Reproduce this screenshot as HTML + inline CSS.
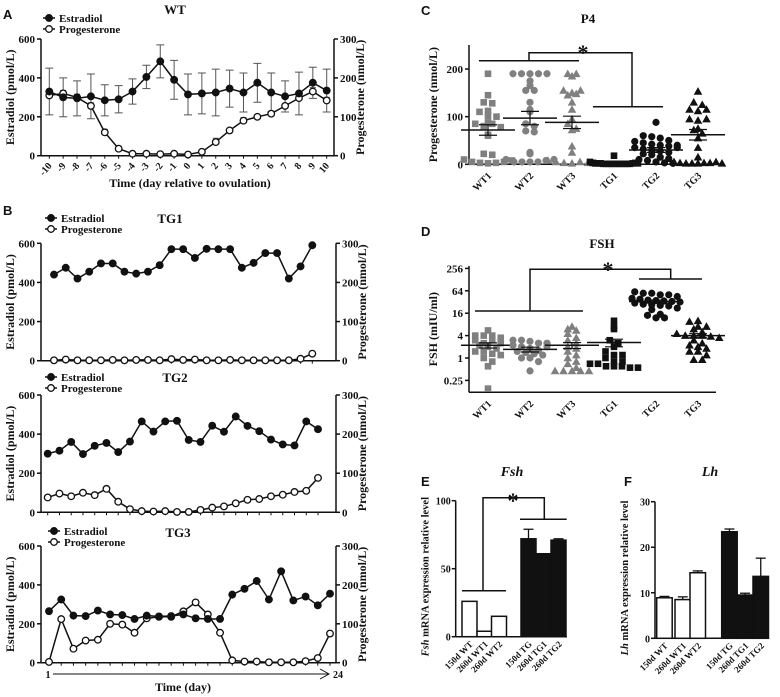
<!DOCTYPE html>
<html><head><meta charset="utf-8"><style>
html,body{margin:0;padding:0;background:#fff;width:780px;height:697px;overflow:hidden}
svg{display:block}
text{font-family:"Liberation Serif",serif;font-weight:bold;fill:#111}
.pl{font-family:"Liberation Sans",sans-serif;font-weight:bold;font-size:13px}
</style></head><body>
<svg id="fig" width="780" height="697" viewBox="0 0 780 697" xmlns="http://www.w3.org/2000/svg"></svg>
<script>
// ---- Panel A (WT) data ----
const aDays=[-10,-9,-8,-7,-6,-5,-4,-3,-2,-1,0,1,2,3,4,5,6,7,8,9,10];
const aE2=[330,300,295,305,285,290,330,405,485,390,315,320,325,345,325,375,325,305,320,375,335];
const aE2err=[120,100,90,115,80,70,65,60,85,100,105,105,120,95,100,100,100,80,110,80,110];
const aP4=[155,160,150,128,60,18,5,5,4,5,3,10,35,65,90,100,108,128,148,165,142];
const aP4err=[8,8,8,8,8,4,2,2,2,2,2,3,10,4,8,4,6,6,8,10,8];
// ---- Panel B data ----
const tg1E2=[440,475,420,455,497,497,455,445,455,488,570,570,525,572,570,570,475,500,550,550,420,482,590];
const tg1P4=[1,3,1,1,1,2,1,2,2,1,4,2,3,1,1,2,1,1,1,1,1,5,18];
const tg2E2=[300,315,360,298,340,355,308,362,465,413,465,468,370,360,443,412,490,442,415,372,347,342,465,425];
const tg2P4=[38,48,41,50,44,60,27,8,3,2,3,1,1,6,12,15,23,32,34,41,45,52,55,88];
const tg3E2=[265,325,242,240,268,248,245,225,242,238,240,248,228,225,225,350,380,420,325,470,320,340,295,355];
const tg3P4=[2,112,36,57,59,100,98,77,114,118,118,132,155,124,77,6,3,3,1,1,1,4,12,75];
// ---- Panel C/D data ----
const groups=["WT1","WT2","WT3","TG1","TG2","TG3"];
const cVals=[
[190,145,130,128,110,102,112,100,88,85,80,85,78,62,60,22,20,10,5,3,2,3,5,8],
[190,190,190,190,190,175,165,155,155,130,115,110,85,80,70,68,22,25,10,5,5,5,5,8,10],
[190,185,190,155,150,145,148,155,130,115,95,85,75,72,38,25,8,5,3,2,5,3,2],
[18,5,3,2,2,2,1,1,1,1,1,1,1,1,1,1,1,2,3,2],
[88,60,58,55,50,48,45,42,40,38,35,32,30,28,25,22,20,15,12,10,8,5,3,2,40,35],
[153,130,125,115,112,115,95,92,95,75,72,65,55,35,15,5,3,2,2,2,3,3,5,2]];
const cMeans=[72,97,88,3,30,62];
const cSem=[11,14,13,1,5,11];
const cTicks=[0,100,200];
const dVals=[
[5.5,4,4,4,3.5,3,2.5,2.2,2,1.8,1.5,1.5,1.3,1.2,1,0.8,0.6,0.15,3,2.5],
[3,3,2.8,2.5,2.2,2,1.8,1.6,1.5,1.4,1.3,1.2,1,1,0.8,0.45,2.5,2],
[7,6,5.5,4.5,3.5,3,2.5,2,1.8,1.5,1.2,1,0.8,0.7,0.55,0.45,0.45,0.45,0.45,0.45],
[10,7,6,3,2.5,2,1.5,1.2,1,0.8,0.7,0.7,0.6,0.6,0.6,0.55,0.55,0.8,1.2],
[60,55,55,50,50,45,40,38,36,35,34,33,32,30,28,27,26,25,22,20,15,14,12,12],
[10,9.5,7,7,6,5,4.5,4,4,4,3.8,3.5,3,2.5,2.2,2,1.8,1.5,1.5,1.2,0.9,0.9]];
const dMeans=[2.2,1.7,2.2,2.6,33,4];
const dSem=[0.35,0.25,0.4,0.6,3,0.5];
const dTicks=[0.25,1,4,16,64,256];
const dTickLabels=["0.25","1","4","16","64","256"];
// ---- Panel E/F data ----
const barCats=["150d  WT","260d  WT1","260d  WT2","150d TG","260d TG1","260d TG2"];
const eVals=[26,4,15,72,61,71];
const eErr=[0,0,0,7,0,1];
const eTicks=[0,50,100];
const fVals=[8.9,8.5,14.4,23.4,9.5,13.6];
const fErr=[0.3,0.6,0.4,0.6,0.4,4];
const fTicks=[0,10,20,30];

const NS="http://www.w3.org/2000/svg";
const svg=document.getElementById('fig');
function el(tag,attrs,parent,txt){const e=document.createElementNS(NS,tag);for(const k in attrs)e.setAttribute(k,attrs[k]);if(txt!==undefined)e.textContent=txt;(parent||svg).appendChild(e);return e;}
function grp(name){const g=el('g',{});


return g;}
function txt(g,x,y,s,size,anchor,name,extra){const t=el('text',Object.assign({x:x,y:y,'font-size':size,'text-anchor':anchor||'middle'},extra||{}),g,s);


return t;}
function line(g,x1,y1,x2,y2,w){return el('line',{x1:x1,y1:y1,x2:x2,y2:y2,stroke:'#111','stroke-width':w||1.5},g);}
function marker(g,x,y,filled,name){const c=el('circle',{cx:x,cy:y,r:3.3,fill:filled?'#111':'#fff',stroke:'#111','stroke-width':1.3},g);


return c;}

// ---------- Line chart ----------
function lineChart(o){
  const g=grp(o.name);
  const yE=v=>o.yBot-(v/600)*(o.yBot-o.yTop);
  const yP=v=>o.yBot-(v/300)*(o.yBot-o.yTop);
  const xs=i=>o.x0+i*(o.x1-o.x0)/(o.nSlots-1);
  line(g,o.axL,o.yTop,o.axL,o.yBot); line(g,o.axR,o.yTop,o.axR,o.yBot);
  line(g,o.axL,o.yBot,o.axR,o.yBot);
  [0,200,400,600].forEach(v=>{line(g,o.axL-4,yE(v),o.axL,yE(v));txt(g,o.axL-6,yE(v)+4,String(v),11,'end','left-tick-label');});
  [0,100,200,300].forEach(v=>{line(g,o.axR,yP(v),o.axR+4,yP(v));txt(g,o.axR+6,yP(v)+4,String(v),11,'start','right-tick-label');});
  for(let i=0;i<o.nSlots;i++){line(g,xs(i),o.yBot,xs(i),o.yBot+3,1);}
  if(o.e2err){o.e2.forEach((v,i)=>{const x=xs(i);el('path',{d:`M${x},${yE(v-o.e2err[i])}V${yE(v+o.e2err[i])}M${x-4},${yE(v-o.e2err[i])}H${x+4}M${x-4},${yE(v+o.e2err[i])}H${x+4}`,stroke:'#555','stroke-width':1,fill:'none'},g);});
    o.p4.forEach((v,i)=>{const x=xs(i);el('path',{d:`M${x},${yP(Math.max(0,v-o.p4err[i]))}V${yP(v+o.p4err[i])}M${x-3},${yP(v+o.p4err[i])}H${x+3}`,stroke:'#555','stroke-width':1,fill:'none'},g);});}
  el('polyline',{points:o.p4.map((v,i)=>xs(i)+','+yP(v)).join(' '),fill:'none',stroke:'#111','stroke-width':1.5},g);
  el('polyline',{points:o.e2.map((v,i)=>xs(i)+','+yE(v)).join(' '),fill:'none',stroke:'#111','stroke-width':1.5},g);
  o.p4.forEach((v,i)=>marker(g,xs(i),yP(v),false,'progesterone-point'));
  o.e2.forEach((v,i)=>marker(g,xs(i),yE(v),true,'estradiol-point'));
  const cy=(o.yTop+o.yBot)/2;
  txt(g,o.axL-27,cy,'Estradiol (pmol/L)',12,'middle','left-axis-title',{transform:`rotate(-90 ${o.axL-27} ${cy})`});
  txt(g,o.axR+30,cy,'Progesterone (nmol/L)',12,'middle','right-axis-title',{transform:`rotate(-90 ${o.axR+30} ${cy})`});
  txt(g,o.titleX,o.titleY,o.title,13,'middle','chart-title');
  const lx=o.legX, ly=o.legY;
  line(g,lx-6,ly,lx+6,ly,1.5);marker(g,lx,ly,true,'legend-estradiol-marker');txt(g,lx+10,ly+4,'Estradiol',11,'start','legend-estradiol');
  line(g,lx-6,ly+11,lx+6,ly+11,1.5);marker(g,lx,ly+11,false,'legend-progesterone-marker');txt(g,lx+10,ly+15,'Progesterone',11,'start','legend-progesterone');
  return {g,xs};
}
const A=lineChart({name:'panel-a-wt',e2:aE2,e2err:aE2err,p4:aP4,p4err:aP4err,nSlots:21,x0:49.3,x1:326.7,axL:41,axR:334,yTop:39,yBot:155.7,title:'WT',titleX:175,titleY:14,legX:49,legY:18});
aDays.forEach((d,i)=>{const x=A.xs(i);txt(A.g,x+3,166,String(d),10,'end','x-tick-label',{transform:`rotate(-50 ${x+3} 166)`});});
txt(A.g,190,187,'Time (day relative to ovulation)',12,'middle','x-axis-title');
lineChart({name:'panel-b-tg1',e2:tg1E2,p4:tg1P4,nSlots:23,x0:54,x1:312.3,axL:41,axR:336,yTop:243.3,yBot:360.7,title:'TG1',titleX:170,titleY:223,legX:51,legY:218});
lineChart({name:'panel-b-tg2',e2:tg2E2,p4:tg2P4,nSlots:24,x0:47.7,x1:318,axL:41,axR:336,yTop:395,yBot:512.3,title:'TG2',titleX:175,titleY:382,legX:51,legY:377});
lineChart({name:'panel-b-tg3',e2:tg3E2,p4:tg3P4,nSlots:24,x0:49,x1:330,axL:41,axR:336,yTop:546,yBot:662.7,title:'TG3',titleX:178,titleY:537,legX:54,legY:531});
const arr=grp('time-arrow');
line(arr,53,674,328,674,1);el('path',{d:'M320,669 L329,674 L320,679',fill:'none',stroke:'#111','stroke-width':1},arr);
txt(arr,48,678,'1',10,'middle','time-start-label');txt(arr,338,678,'24',10,'middle','time-end-label');
txt(arr,183,691,'Time (day)',12,'middle','x-axis-title');

// ---------- Scatter charts ----------
const catX=[488,530,572,614,656,698];
function shape(g,type,x,y,color,name){let e;
  if(type===0)e=el('rect',{x:x-3.3,y:y-3.3,width:6.6,height:6.6,fill:color},g);
  else if(type===1)e=el('circle',{cx:x,cy:y,r:3.6,fill:color},g);
  else e=el('path',{d:`M${x},${y-4.3}L${x+4.3},${y+3.3}L${x-4.3},${y+3.3}Z`,fill:color},g);
  
  }
function scatter(o){
  const g=grp(o.name);
  line(g,469,o.axTop,469,o.yBot);line(g,469,o.yBot,716,o.yBot);
  o.ticks.forEach((v,i)=>{const y=o.y(v);line(g,465,y,469,y);txt(g,463,y+4,o.tickLabels[i],11,'end','y-tick-label');});
  groups.forEach((gn,gi)=>{
    const col=gi<3?'#808080':'#111';const type=gi%3;const cx=catX[gi];
    const bins={};
    o.vals[gi].forEach(v=>{const b=Math.round(o.y(v)/6);(bins[b]=bins[b]||[]).push(v);});
    Object.keys(bins).forEach(b=>{const arr=bins[b];const n=arr.length;const sp=n>1?Math.min(8.5,48/(n-1)):0;
      arr.forEach((v,k)=>{const off=(k-(n-1)/2)*sp;shape(g,type,cx+off,o.y(v),col,'data-point-'+gn.toLowerCase());});});
    const ym=o.y(o.means[gi]);line(g,cx-27,ym,cx+27,ym,1.5);
    const yh=o.y(o.means[gi]+o.sem[gi]),yl=o.y(Math.max(o.means[gi]-o.sem[gi],o.minV));
    line(g,cx,yh,cx,yl,1.2);line(g,cx-9,yh,cx+9,yh,1.2);line(g,cx-9,yl,cx+9,yl,1.2);
    txt(g,cx+4,o.yBot+12,gn,10,'end','x-tick-label',{transform:`rotate(-45 ${cx+4} ${o.yBot+12})`});
  });
  const b=o.br;
  el('path',{d:`M${b[0]},${b[1]}H${b[2]}M${b[3]},${b[1]}V${b[4]}H${b[5]}V${b[6]}M${b[7]},${b[6]}H${b[8]}`,fill:'none',stroke:'#111','stroke-width':1.5},g);
  txt(g,b[9],b[10],'*',22,'middle','significance-star',{'font-family':'Liberation Sans'});
  txt(g,o.titleX,o.titleY,o.title,13,'middle','chart-title');
  const cy=(o.axTop+o.yBot)/2;
  txt(g,437,cy,o.ytitle,12,'middle','y-axis-title',{transform:`rotate(-90 437 ${cy})`});
}
scatter({name:'panel-c-p4',vals:cVals,means:cMeans,sem:cSem,minV:0,ticks:cTicks,tickLabels:cTicks.map(String),
  y:v=>164.3-v*0.4765,yBot:164.3,axTop:45,title:'P4',titleX:588,titleY:23,ytitle:'Progesterone (nmol/L)',
  br:[479,60.7,579,529,52.7,632,106.7,593,663,583,60]});
scatter({name:'panel-d-fsh',vals:dVals,means:dMeans,sem:dSem,minV:0.13,ticks:dTicks,tickLabels:dTickLabels,
  y:v=>358-Math.log2(v)*11.2,yBot:392.3,axTop:266,title:'FSH',titleX:602,titleY:248,ytitle:'FSH (mIU/ml)',
  br:[475,311,583,530,269.3,670.7,279,639,702,608,277]});

// ---------- Bar charts ----------
function bars(o){
  const g=grp(o.name);
  const y=v=>o.yBot-v/o.max*(o.yBot-o.yTop);
  line(g,o.axX,o.yTop,o.axX,o.yBot);line(g,o.axX,o.yBot,o.xEnd,o.yBot);
  o.ticks.forEach(v=>{line(g,o.axX-4,y(v),o.axX,y(v));txt(g,o.axX-5,y(v)+4,String(v),10,'end','y-tick-label');});
  o.vals.forEach((v,i)=>{const x=o.bx[i];const r=el('rect',{x:x,y:y(v),width:o.bw,height:o.yBot-y(v),fill:i<3?'#fff':'#111',stroke:'#111','stroke-width':1.5},g);
    
    
    if(o.err[i]>0){const cx=x+o.bw/2;line(g,cx,y(v),cx,y(v+o.err[i]),1.3);line(g,cx-5,y(v+o.err[i]),cx+5,y(v+o.err[i]),1.3);}
    const lx=x+o.bw/2+4,ly=o.yBot+8;
    txt(g,lx,ly,barCats[i],9,'end','x-tick-label',{transform:`rotate(-45 ${lx} ${ly})`});});
  txt(g,o.titleX,476,o.title,14,'middle','chart-title',{'font-style':'italic'});
  const cy=(o.yTop+o.yBot)/2+8;
  const t=txt(g,o.axX-27,cy,'',10.5,'middle','y-axis-title',{transform:`rotate(-90 ${o.axX-27} ${cy})`});
  el('tspan',{'font-style':'italic'},t,o.title);el('tspan',{},t,' mRNA expression relative level');
  return {g,y};
}
const E=bars({name:'panel-e-fsh-mrna',vals:eVals,err:eErr,ticks:eTicks,max:100,yTop:500.7,yBot:636.7,axX:455.7,xEnd:567,bx:[462,477,491.5,521,536,551],bw:15,title:'Fsh',titleX:512});
el('path',{d:'M462,590.7H506M483,590.7V497.7H544.3V519.3M520,519.3H566.7',fill:'none',stroke:'#111','stroke-width':1.5},E.g);
txt(E.g,513,508,'*',22,'middle','significance-star',{'font-family':'Liberation Sans'});
bars({name:'panel-f-lh-mrna',vals:fVals,err:fErr,ticks:fTicks,max:30,yTop:501.7,yBot:638.3,axX:655,xEnd:768.3,bx:[656.7,675,690,721.7,737.3,753],bw:15.5,title:'Lh',titleX:710});

[['A',3,19],['B',3,215],['C',421,15],['D',421,236],['E',421,486],['F',624,486]].forEach(p=>{
  const t=el('text',{x:p[1],y:p[2],class:'pl'},svg,p[0]);
  
  
});
</script>
</body></html>
